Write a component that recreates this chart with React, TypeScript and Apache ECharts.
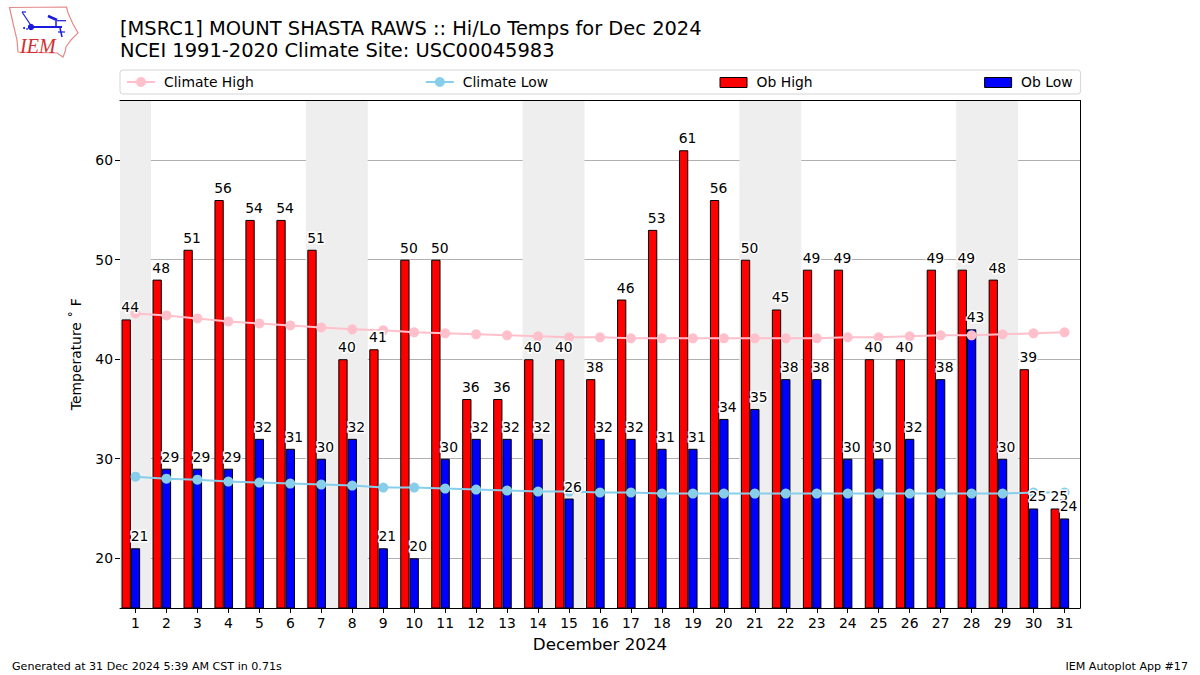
import React, { useEffect, useRef } from "react";
import * as echarts from "echarts";

const days = Array.from({ length: 31 }, (_, i) => String(i + 1));
const obHigh = [44, 48, 51, 56, 54, 54, 51, 40, 41, 50, 50, 36, 36, 40, 40, 38, 46, 53, 61, 56, 50, 45, 49, 49, 40, 40, 49, 49, 48, 39, 25];
const obLow = [21, 29, 29, 29, 32, 31, 30, 32, 21, 20, 30, 32, 32, 32, 26, 32, 32, 31, 31, 34, 35, 38, 38, 30, 30, 32, 38, 43, 30, 25, 24];
const climateHigh = [44.6, 44.4, 44.1, 43.8, 43.6, 43.4, 43.2, 43.0, 42.9, 42.7, 42.6, 42.5, 42.4, 42.3, 42.2, 42.2, 42.1, 42.1, 42.1, 42.1, 42.1, 42.1, 42.1, 42.2, 42.2, 42.3, 42.4, 42.4, 42.5, 42.6, 42.7];
const climateLow = [28.2, 28.0, 27.9, 27.7, 27.6, 27.5, 27.4, 27.3, 27.1, 27.1, 27.0, 26.9, 26.8, 26.7, 26.7, 26.6, 26.6, 26.5, 26.5, 26.5, 26.5, 26.5, 26.5, 26.5, 26.5, 26.5, 26.5, 26.5, 26.5, 26.6, 26.6];
const weekendBands = [[0.5, 1.5], [6.5, 8.5], [13.5, 15.5], [20.5, 22.5], [27.5, 29.5]];
const yTicks = [20, 30, 40, 50, 60];

const FONT = "DejaVu Sans";
const RECT_ICON = "path://M0 0L0 0M28 12.5L28 12.5M0.5 1.75H27.5V11.75H0.5Z";
const BAR_W = 9.29;

const barLabel = {
  show: true,
  position: "top",
  distance: 5,
  offset: [4, 0],
  color: "#000",
  fontFamily: FONT,
  fontSize: 13.9,
  textBorderColor: "#fff",
  textBorderWidth: 3,
};

function logo() {
  const blue = { stroke: "#1a1ae0", lineWidth: 2 };
  const seg = (x1: number, y1: number, x2: number, y2: number, lw = 2) => ({
    type: "line",
    shape: { x1, y1, x2, y2 },
    style: { ...blue, lineWidth: lw },
    silent: true,
  });
  return {
    type: "group",
    children: [
      {
        type: "polygon",
        shape: {
          points: [[9.5, 7.5], [66.5, 7], [68, 13], [73, 24], [78, 33], [71, 40], [66, 47], [65, 52], [63, 57], [57, 53], [18, 52], [17, 40], [13, 23]],
        },
        style: { fill: "#fff", stroke: "#e58a8a", lineWidth: 1.2 },
      },
      seg(31, 27, 62, 27, 2),
      { type: "circle", shape: { cx: 31, cy: 27, r: 3.2 }, style: { fill: "#1a1ae0" } },
      seg(22, 12, 30, 24, 1.2),
      seg(22, 12, 26, 12, 1.2),
      seg(48, 16, 57, 20, 2.5),
      seg(57, 20.7, 66, 20.7, 1.2),
      seg(56, 21, 56, 28, 1.5),
      seg(60, 28, 62, 37, 1.5),
      seg(58, 32, 65, 32, 1.2),
      { type: "circle", shape: { cx: 24, cy: 28, r: 1 }, style: { fill: "#1a1ae0" } },
      { type: "circle", shape: { cx: 27, cy: 29, r: 0.8 }, style: { fill: "#1a1ae0" } },
      {
        type: "text",
        x: 20,
        y: 36,
        style: { text: "IEM", fill: "#d03030", font: "italic 20px 'Liberation Serif'" },
      },
    ],
  };
}

export default function App() {
  const ref = useRef<HTMLDivElement>(null);
  useEffect(() => {
    document.body.style.margin = "0";
    const chart = echarts.init(ref.current!, undefined, { renderer: "svg" });
    const barStyle = (color: string) => ({ color, borderColor: "#000", borderWidth: 1, borderJoin: "miter" });
    chart.setOption({
      animation: false,
      backgroundColor: "#fff",
      textStyle: { fontFamily: FONT },
      title: {
        text: "[MSRC1] MOUNT SHASTA RAWS :: Hi/Lo Temps for Dec 2024\nNCEI 1991-2020 Climate Site: USC00045983",
        left: 120,
        top: 18,
        padding: 0,
        textStyle: { fontFamily: FONT, fontSize: 19.45, fontWeight: "normal", color: "#000", lineHeight: 21.5 },
      },
      legend: {
        left: 120,
        top: 70,
        orient: "horizontal",
        padding: [5, 8, 5, 6],
        itemGap: 171,
        itemWidth: 28,
        itemHeight: 12.5,
        borderColor: "#d5d5d5",
        borderWidth: 1,
        borderRadius: 3,
        backgroundColor: "#fff",
        textStyle: { fontFamily: FONT, fontSize: 13.9, color: "#000", padding: [0, 0, 0, 4] },
        data: [
          { name: "Climate High" },
          { name: "Climate Low" },
          { name: "Ob High", icon: RECT_ICON, itemStyle: barStyle("#ff0000") },
          { name: "Ob Low", icon: RECT_ICON, itemStyle: barStyle("#0000ff") },
        ],
      },
      grid: { left: 120, top: 100.5, width: 960, height: 507.5, containLabel: false },
      xAxis: [
        {
          type: "category",
          data: days,
          position: "bottom",
          z: 10,
          name: "December 2024",
          nameLocation: "middle",
          nameGap: 27,
          nameTextStyle: { fontFamily: FONT, fontSize: 16.7, color: "#000" },
          axisLine: { show: true, onZero: false, lineStyle: { color: "#000", width: 1 } },
          axisTick: { show: true, alignWithLabel: true, length: 5, lineStyle: { color: "#000" } },
          axisLabel: { interval: 0, color: "#000", fontFamily: FONT, fontSize: 13.9, margin: 8 },
          splitLine: { show: false },
        },
        {
          type: "value",
          min: 0.5,
          max: 31.5,
          position: "top",
          z: 10,
          axisLine: { show: true, onZero: false, lineStyle: { color: "#000", width: 1 } },
          axisTick: { show: false },
          axisLabel: { show: false },
          splitLine: { show: false },
        },
        { type: "category", data: days, show: false },
      ],
      yAxis: [
        {
          type: "value",
          min: 15,
          max: 66,
          interval: 5,
          position: "left",
          z: 0,
          name: "Temperature ˚ F",
          nameLocation: "middle",
          nameGap: 37,
          nameRotate: 90,
          nameTextStyle: { fontFamily: FONT, fontSize: 13.9, color: "#000" },
          axisLine: { show: true, onZero: false, lineStyle: { color: "#000", width: 1 } },
          axisTick: { show: true, length: 5, lineStyle: { color: "#000" }, customValues: yTicks },
          axisLabel: { color: "#000", fontFamily: FONT, fontSize: 13.9, margin: 7, customValues: yTicks },
          splitLine: { show: true, lineStyle: { color: "#b0b0b0", width: 1, type: "solid" } },
        },
        {
          type: "value",
          min: 15,
          max: 66,
          interval: 5,
          position: "right",
          z: 10,
          axisLine: { show: true, onZero: false, lineStyle: { color: "#000", width: 1 } },
          axisTick: { show: false },
          axisLabel: { show: false },
          splitLine: { show: false },
        },
      ],
      series: [
        {
          type: "line",
          name: "weekends",
          xAxisIndex: 1,
          yAxisIndex: 0,
          z: -1,
          data: [],
          silent: true,
          markArea: {
            silent: true,
            itemStyle: { color: "#eeeeee" },
            data: weekendBands.map(([a, b]) => [{ xAxis: a }, { xAxis: b }]),
          },
        },
        {
          type: "bar",
          name: "Ob High",
          data: obHigh,
          z: 2,
          barWidth: BAR_W,
          barGap: "0%",
          itemStyle: barStyle("#ff0000"),
        },
        {
          type: "bar",
          name: "Ob Low",
          data: obLow,
          z: 2,
          barWidth: BAR_W,
          barGap: "0%",
          itemStyle: barStyle("#0000ff"),
        },
        { type: "bar", name: "spacer", data: [], barWidth: BAR_W, barGap: "0%" },
        {
          type: "line",
          name: "Climate High",
          data: climateHigh,
          z: 4,
          symbol: "circle",
          symbolSize: 10,
          showAllSymbol: true,
          lineStyle: { color: "#ffc0cb", width: 2 },
          itemStyle: { color: "#ffc0cb" },
        },
        {
          type: "line",
          name: "Climate Low",
          data: climateLow,
          z: 4,
          symbol: "circle",
          symbolSize: 10,
          showAllSymbol: true,
          lineStyle: { color: "#87ceeb", width: 2 },
          itemStyle: { color: "#87ceeb" },
        },
        {
          type: "bar",
          name: "High labels",
          xAxisIndex: 2,
          data: obHigh,
          z: 6,
          barWidth: BAR_W,
          barGap: "0%",
          silent: true,
          itemStyle: { color: "rgba(0,0,0,0)" },
          label: barLabel,
        },
        {
          type: "bar",
          name: "Low labels",
          xAxisIndex: 2,
          data: obLow,
          z: 6,
          barWidth: BAR_W,
          barGap: "0%",
          silent: true,
          itemStyle: { color: "rgba(0,0,0,0)" },
          label: barLabel,
        },
        { type: "bar", name: "label spacer", xAxisIndex: 2, data: [], barWidth: BAR_W, barGap: "0%" },
      ],
      graphic: [
        logo(),
        {
          type: "text",
          x: 12,
          y: 661,
          style: { text: "Generated at 31 Dec 2024 5:39 AM CST in 0.71s", fill: "#000", font: `11.1px '${FONT}'` },
        },
        {
          type: "text",
          x: 1188,
          y: 661,
          style: { text: "IEM Autoplot App #17", fill: "#000", align: "right", font: `11.1px '${FONT}'` },
        },
      ],
    });
    return () => chart.dispose();
  }, []);
  return <div ref={ref} style={{ width: 1200, height: 675, position: "absolute", left: 0, top: 0 }} />;
}
